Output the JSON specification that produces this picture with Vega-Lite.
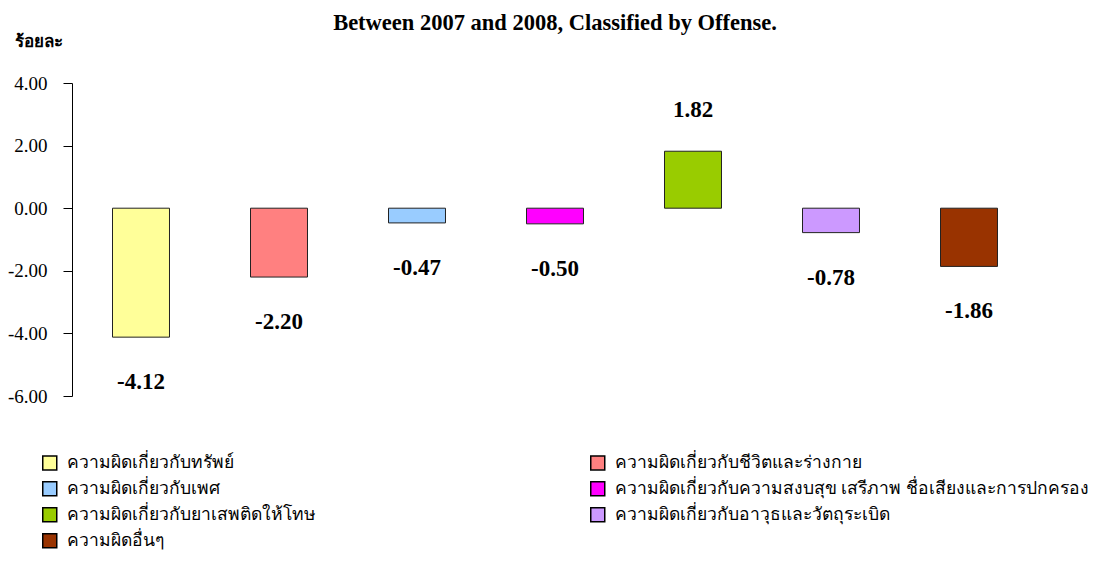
{
  "$schema": "https://vega.github.io/schema/vega-lite/v6.json",
  "autosize": "none",
  "width": 966,
  "height": 313,
  "padding": {"left": 72, "top": 83, "right": 62, "bottom": 187},
  "background": "white",
  "config": {
    "view": {"stroke": null},
    "locale": {"number": {"decimal": ".", "thousands": ",", "grouping": [3], "currency": ["$", ""], "minus": "-"}}
  },
  "title": {
    "text": "Between 2007 and 2008, Classified by Offense.",
    "font": "Liberation Serif",
    "fontSize": 22.5,
    "fontWeight": "bold",
    "color": "black",
    "anchor": "middle",
    "offset": -2
  },
  "data": {
    "values": [
      {"offense": "ความผิดเกี่ยวกับทรัพย์", "value": -4.12},
      {"offense": "ความผิดเกี่ยวกับชีวิตและร่างกาย", "value": -2.20},
      {"offense": "ความผิดเกี่ยวกับเพศ", "value": -0.47},
      {"offense": "ความผิดเกี่ยวกับความสงบสุข เสรีภาพ ชื่อเสียงและการปกครอง", "value": -0.50},
      {"offense": "ความผิดเกี่ยวกับยาเสพติดให้โทษ", "value": 1.82},
      {"offense": "ความผิดเกี่ยวกับอาวุธและวัตถุระเบิด", "value": -0.78},
      {"offense": "ความผิดอื่นๆ", "value": -1.86}
    ]
  },
  "encoding": {
    "x": {
      "field": "offense",
      "type": "nominal",
      "sort": null,
      "scale": {"paddingInner": 0.587, "paddingOuter": 0.2935},
      "axis": null
    },
    "y": {
      "field": "value",
      "type": "quantitative",
      "scale": {"domain": [-6, 4], "nice": false, "zero": false},
      "axis": {
        "values": [-6, -4, -2, 0, 2, 4],
        "format": ".2f",
        "grid": false,
        "labelFont": "Liberation Serif",
        "labelFontSize": 19,
        "labelColor": "black",
        "labelPadding": 16,
        "tickSize": 9,
        "tickColor": "black",
        "domainColor": "black",
        "title": "ร้อยละ",
        "titleAngle": 0,
        "titleFontSize": 17,
        "titleFontWeight": "bold",
        "titleColor": "black",
        "titleAlign": "center",
        "titleBaseline": "middle",
        "titleX": -34,
        "titleY": -42
      }
    }
  },
  "layer": [
    {
      "mark": {"type": "bar", "stroke": "#222222", "strokeWidth": 1},
      "encoding": {
        "color": {
          "field": "offense",
          "type": "nominal",
          "scale": {
            "domain": [
              "ความผิดเกี่ยวกับทรัพย์",
              "ความผิดเกี่ยวกับเพศ",
              "ความผิดเกี่ยวกับยาเสพติดให้โทษ",
              "ความผิดอื่นๆ",
              "ความผิดเกี่ยวกับชีวิตและร่างกาย",
              "ความผิดเกี่ยวกับความสงบสุข เสรีภาพ ชื่อเสียงและการปกครอง",
              "ความผิดเกี่ยวกับอาวุธและวัตถุระเบิด"
            ],
            "range": ["#FFFF99", "#99CCFF", "#99CC00", "#993300", "#FF8080", "#FF00FF", "#CC99FF"]
          },
          "legend": {
            "title": null,
            "orient": "none",
            "legendX": -31,
            "legendY": 371,
            "columns": 2,
            "columnPadding": 271,
            "rowPadding": 5,
            "symbolType": "square",
            "symbolSize": 196,
            "symbolStrokeColor": "black",
            "symbolStrokeWidth": 1.5,
            "labelFontSize": 17.5,
            "labelFontWeight": "normal",
            "labelColor": "black",
            "labelOffset": 8,
            "labelLimit": 0
          }
        }
      }
    },
    {
      "mark": {"type": "rule", "color": "#444444", "strokeWidth": 1},
      "encoding": {"y": {"datum": 0}}
    },
    {
      "transform": [{"filter": "datum.value < 0"}],
      "mark": {"type": "text", "font": "Liberation Serif", "fontSize": 23, "fontWeight": "bold", "baseline": "middle", "dy": 45, "color": "black"},
      "encoding": {"text": {"field": "value", "type": "quantitative", "format": ".2f"}}
    },
    {
      "transform": [{"filter": "datum.value >= 0"}],
      "mark": {"type": "text", "font": "Liberation Serif", "fontSize": 23, "fontWeight": "bold", "baseline": "middle", "dy": -41, "color": "black"},
      "encoding": {"text": {"field": "value", "type": "quantitative", "format": ".2f"}}
    }
  ]
}
